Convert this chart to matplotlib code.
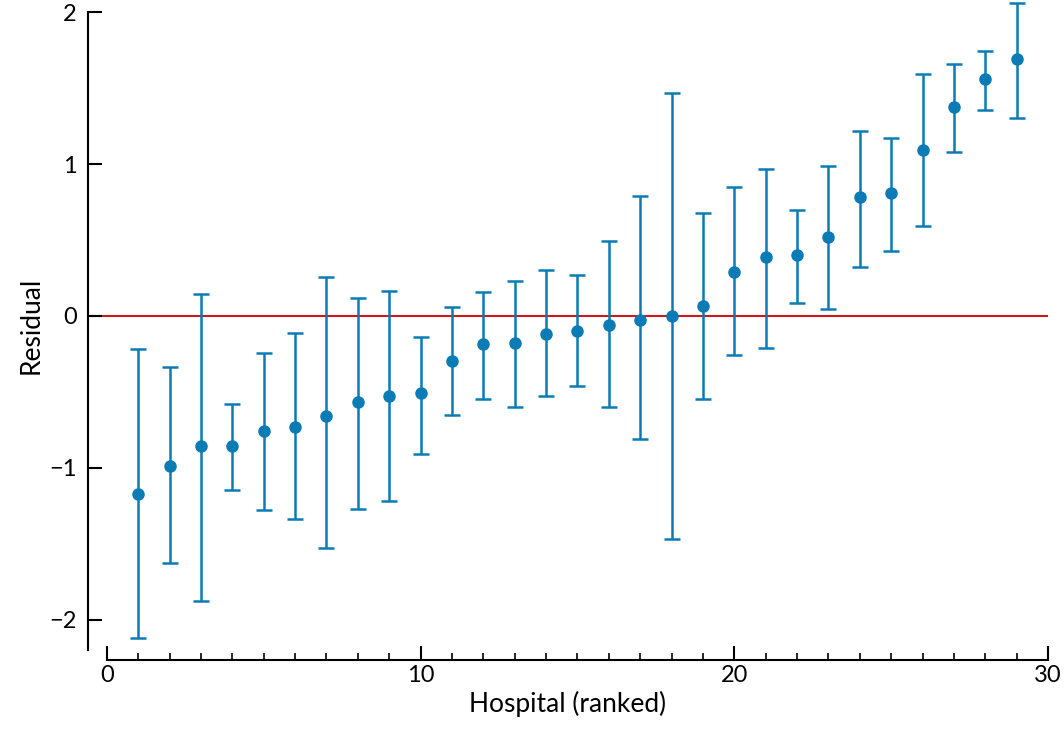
import matplotlib
matplotlib.use("Agg")
import matplotlib.pyplot as plt
import numpy as np

hospital = list(range(1, 30))
residual = [-1.17,-0.99,-0.86,-0.86,-0.76,-0.73,-0.66,-0.57,-0.53,-0.51,-0.30,-0.185,-0.18,-0.12,-0.10,-0.06,-0.03,0.0,0.065,0.29,0.39,0.40,0.52,0.78,0.81,1.09,1.375,1.56,1.69]
upper = [-0.22,-0.335,0.145,-0.58,-0.245,-0.11,0.255,0.12,0.165,-0.14,0.06,0.16,0.23,0.30,0.27,0.49,0.79,1.47,0.68,0.85,0.97,0.70,0.99,1.22,1.17,1.59,1.66,1.745,2.06]
lower = [-2.12,-1.63,-1.875,-1.145,-1.28,-1.34,-1.53,-1.27,-1.22,-0.91,-0.65,-0.55,-0.60,-0.53,-0.46,-0.60,-0.81,-1.47,-0.55,-0.26,-0.21,0.085,0.045,0.32,0.43,0.59,1.08,1.355,1.30]

plt.rcParams['font.family'] = ['Lato', 'DejaVu Sans']
fig = plt.figure(figsize=(10.64, 7.42), dpi=100)
ax = fig.add_axes([88/1064, 1-650/742, 960/1064, 650/742])
r = np.array(residual); u = np.array(upper); l = np.array(lower)
ax.axhline(0, color='#cc1a1a', lw=1.5, zorder=1)
ax.errorbar(hospital, r, yerr=[r-l, u-r], fmt='o', color='#0a7bb5', ms=8,
            elinewidth=1.8, capsize=6, capthick=1.8, zorder=3)
ax.set_xlim(-0.6, 30)
ax.set_ylim(-2.2, 2.08)
for s in ['top', 'right']:
    ax.spines[s].set_visible(False)
ax.spines['bottom'].set_position(('outward', 7))
ax.spines['bottom'].set_bounds(0, 30)
ax.spines['left'].set_bounds(-2.2, 2)
for s in ['left', 'bottom']:
    ax.spines[s].set_linewidth(1.5)
ax.set_yticks([-2, -1, 0, 1, 2])
ax.set_xticks([0, 10, 20, 30])
ax.set_xticks(range(0, 31), minor=True)
ax.tick_params(direction='in', length=10, width=1.5, labelsize=17)
ax.tick_params(which='minor', direction='in', length=5, width=1.2)
ax.tick_params(axis='y', pad=8)
ax.set_xlabel('Hospital (ranked)', fontsize=19)
ax.set_ylabel('Residual', fontsize=19)
fig.savefig('out.png', dpi=100)
